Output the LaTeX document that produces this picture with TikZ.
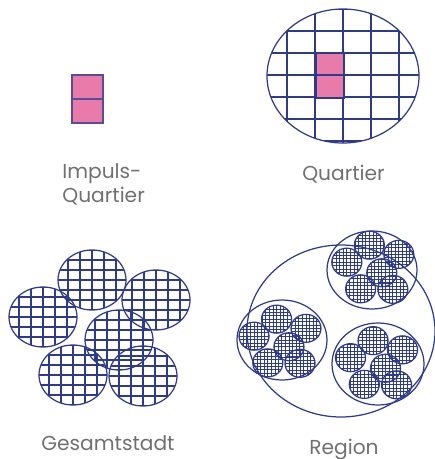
\documentclass[tikz,border=0pt]{standalone}
\usepackage{fontspec}
\setmainfont{Poppins}
\usetikzlibrary{positioning}

\definecolor{netzblau}{HTML}{2E3A8C}
\definecolor{impulsrosa}{HTML}{E97BAA}
\definecolor{impulsrand}{HTML}{5A4C9C}
\definecolor{textgrau}{HTML}{707070}

\tikzset{
  rand/.style={draw=netzblau, line width=0.7pt},
  netz/.style={draw=netzblau, line width=0.6pt},
  feinnetz/.style={draw=netzblau, line width=0.4pt},
  impuls/.style={fill=impulsrosa, draw=impulsrand, line width=0.8pt},
  beschriftung/.style={text=textgrau, font=\fontsize{11.5}{14}\selectfont}
}

% gitter-oval: mitte x, mitte y, radius x, radius y, schritt x, schritt y, stil
\newcommand\netzoval[7]{%
  \begin{scope}
    \clip (#1,#2) ellipse [x radius=#3, y radius=#4];
    \foreach \gi in {-12,...,12}
      \draw[#7] ({#1+\gi*#5},{#2-#4}) -- ({#1+\gi*#5},{#2+#4});
    \foreach \gj in {-12,...,12}
      \draw[#7] ({#1-#3},{#2+\gj*#6}) -- ({#1+#3},{#2+\gj*#6});
  \end{scope}
  \draw[rand] (#1,#2) ellipse [x radius=#3, y radius=#4];
}

% stadt aus sechs quartieren: mitte x, mitte y, abstand, radius x, radius y, schritt x, schritt y, stil
\newcommand\stadt[8]{%
  \foreach \sa/\sb in {-7.5/-47.5, -56.5/-10.5, 56.5/-27.5, 19.5/12.5, -26.5/47.5, 43.5/48.5}
    \netzoval{#1+#3*\sa}{#2+#3*\sb}{#4}{#5}{#6}{#7}{#8};
}

\begin{document}
\begin{tikzpicture}[x=0.02cm, y=-0.02cm]
    \useasboundingbox (0,0) rectangle (435,459);

    % Impuls-Quartier
    \draw[impuls] (72,75) rectangle (103,123);
    \draw[impulsrand, line width=0.8pt] (72,99) -- (103,99);
    \node[beschriftung, anchor=north west, align=left, inner sep=0pt] (impulstext) at (62,163) {Impuls-\\Quartier};

    % Quartier
    \begin{scope}
        \clip (343,76) ellipse [x radius=76, y radius=67];
        \foreach \qx in {259,287,...,427}
            \draw[netz] (\qx,0) -- (\qx,150);
        \foreach \qy in {9,31,...,141}
            \draw[netz] (260,\qy) -- (430,\qy);
    \end{scope}
    \draw[rand] (343,76) ellipse [x radius=76, y radius=67];
    \fill[impulsrosa] (316,53) rectangle (344,98);
    \draw[netz] (316,75) -- (344,75);
    \draw[netzblau, line width=1.3pt] (316,53) rectangle (344,98);
    \node[beschriftung, anchor=base, inner sep=0pt] (quartiertext) at (343.5,180) {Quartier};

    % Gesamtstadt
    \stadt{99.5}{327.5}{1}{34}{30}{12}{10}{netz}
    \node[beschriftung, anchor=base, inner sep=0pt] (stadttext) at (108,450) {Gesamtstadt};

    % Region
    \stadt{372.8}{267}{0.46}{15}{14}{3.6}{3.4}{feinnetz}
    \stadt{280}{341}{0.46}{15}{14}{3.6}{3.4}{feinnetz}
    \stadt{376.5}{362.5}{0.46}{15}{14}{3.6}{3.4}{feinnetz}
    \draw[rand] (372,270) ellipse [x radius=45, y radius=39];
    \draw[rand] (282,340) ellipse [x radius=45, y radius=40];
    \draw[rand] (378,364) ellipse [x radius=46, y radius=41];
    \draw[rand] (341,331) ellipse [x radius=94, y radius=86];
    \node[beschriftung, anchor=base, inner sep=0pt] (regiontext) at (344,454) {Region};
\end{tikzpicture}
\end{document}
